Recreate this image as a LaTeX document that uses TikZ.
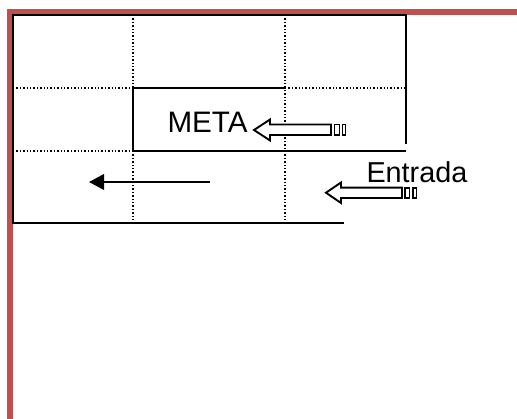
\documentclass[tikz,border=0pt]{standalone}
\usepackage{fontspec}
\setmainfont{Liberation Sans}
\usetikzlibrary{arrows.meta}
\tikzset{
  solidline/.style={black,line width=1.7pt},
  dotline/.style={black,line width=1.4pt,dash pattern=on 1.4pt off 2pt},
  redband/.style={fill=redb,draw=none},
  blockarrow/.style={draw=black,fill=white,line width=1.9pt,miter limit=10},
  lbl/.style={inner sep=0pt,outer sep=0pt,anchor=base west}
}
\definecolor{redb}{RGB}{192,80,77}
\begin{document}
\begin{tikzpicture}[x=1pt,y=-1pt]
\useasboundingbox (0,0) rectangle (517,419);
\fill[white] (0,0) rectangle (517,419);
% red bands
\fill[redband] (6.5,9) rectangle (517,15);
\fill[redband] (6.5,9) rectangle (13,419);
% grid corner points
\coordinate (tl) at (13,15);
\coordinate (tr) at (406,15);
\coordinate (rb) at (406,144);
\coordinate (bl) at (13,223);
\coordinate (br) at (344,223);
\coordinate (t1) at (133,15);
\coordinate (t2) at (285,15);
\coordinate (b1) at (133,223);
\coordinate (b2) at (285,223);
\coordinate (l1) at (13,88);
\coordinate (l2) at (13,151);
\coordinate (m1) at (133,88);
\coordinate (m2) at (285,88);
\coordinate (r1) at (406,88);
\coordinate (m3) at (133,151);
\coordinate (r2) at (406,151);
% dotted
\draw[dotline] (t1) -- (b1);
\draw[dotline] (t2) -- (b2);
\draw[dotline] (l1) -- (m1);
\draw[dotline] (m2) -- (r1);
\draw[dotline] (l2) -- (m3);
% solid
\draw[solidline] (rb) -- (tr) -- (tl) -- (bl) -- (br);
\draw[solidline] (m2) -- (m1) -- (m3) -- (r2);
% plain arrow
\coordinate (as) at (210,182);
\coordinate (ae) at (89,182);
\draw[solidline,line width=2pt,-{Triangle[length=15pt,width=15.5pt]}] (as) -- (ae);
% labels
\node[lbl,font=\fontsize{29.6}{31}\selectfont] (meta) at (167.5,133) {META};
\node[lbl,font=\fontsize{28.8}{30}\selectfont] (entrada) at (366.5,183) {Entrada};
% block arrow META
\draw[blockarrow] (254,130) -- (270,119.5) -- (270,124.5) -- (331,124.5) -- (331,135) -- (270,135) -- (270,140.5) -- cycle;
\draw[blockarrow,line width=1.6pt] (334.5,124.5) rectangle (339.5,135);
\draw[blockarrow,line width=1.6pt] (342.5,124.5) rectangle (345.5,135);
% block arrow Entrada
\draw[blockarrow] (326,192.7) -- (341,182.5) -- (341,187.7) -- (402,187.7) -- (402,198) -- (341,198) -- (341,203) -- cycle;
\draw[blockarrow,line width=1.6pt] (405,188) rectangle (409.5,198);
\draw[blockarrow,line width=1.6pt] (413,188) rectangle (416.5,198);
\end{tikzpicture}
\end{document}
